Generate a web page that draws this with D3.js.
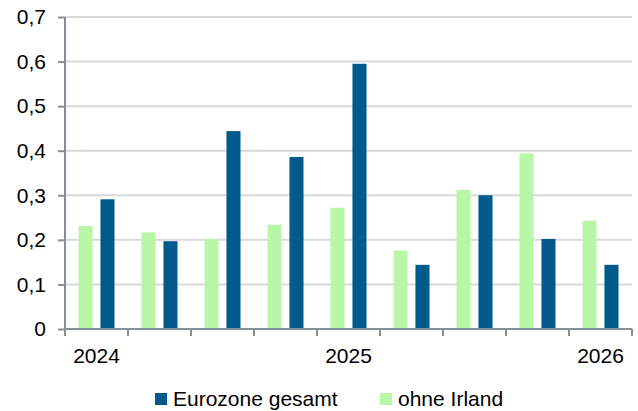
<!DOCTYPE html>
<html>
<head>
<meta charset="utf-8">
<script src="https://cdn.jsdelivr.net/npm/d3@7"></script>
<style>
  body { margin: 0; background: #fff; }
  text { font-family: "Liberation Sans", Arial, sans-serif; fill: #000; }
</style>
</head>
<body>
<div id="chart"></div>
<script>
// quarters 2024 Q1 .. 2026 Q1
var quarters = ["2024 Q1", "2024 Q2", "2024 Q3", "2024 Q4", "2025 Q1", "2025 Q2", "2025 Q3", "2025 Q4", "2026 Q1"];
var yearLabels = ["2024", "", "", "", "2025", "", "", "", "2026"];
var seriesNames = ["ohne Irland", "Eurozone gesamt"];
var ohneIrland = [0.231, 0.217, 0.202, 0.234, 0.272, 0.176, 0.312, 0.394, 0.243];
var eurozone = [0.291, 0.197, 0.444, 0.386, 0.595, 0.144, 0.300, 0.202, 0.144];
var yTicks = [0, 0.1, 0.2, 0.3, 0.4, 0.5, 0.6, 0.7];

var svgWidth = 638;
var svgHeight = 411;
var margin = { top: 17, right: 6, bottom: 82, left: 65 };
var width = svgWidth - margin.left - margin.right;
var height = svgHeight - margin.top - margin.bottom;

var colors = { "ohne Irland": "#b8f7a8", "Eurozone gesamt": "#005a8c" };

var svg = d3.select("#chart")
  .append("svg")
  .attr("width", svgWidth)
  .attr("height", svgHeight);

var chartGroup = svg.append("g")
  .attr("transform", `translate(${margin.left}, ${margin.top})`);

var x0 = d3.scaleBand()
  .domain(quarters)
  .range([0, width]);

var x1 = d3.scaleBand()
  .domain(seriesNames)
  .range([13.5, 49.5])
  .paddingInner(0.36);

var y = d3.scaleLinear()
  .domain([0, 0.7])
  .range([height, 0]);

var fmt = d => d3.format(".1f")(d).replace(".", ",").replace(/^0,0$/, "0");

// gridlines
chartGroup.append("g")
  .selectAll("line")
  .data(yTicks.filter(d => d > 0))
  .enter()
  .append("line")
  .attr("x1", 0)
  .attr("x2", width)
  .attr("y1", d => y(d))
  .attr("y2", d => y(d))
  .attr("stroke", "#d9d9d9")
  .attr("stroke-width", 2);

// bars
var data = quarters.map((q, i) => ({ q: q, vals: [
  { s: "ohne Irland", v: ohneIrland[i] },
  { s: "Eurozone gesamt", v: eurozone[i] }
] }));

chartGroup.append("g")
  .selectAll("g")
  .data(data)
  .enter()
  .append("g")
  .attr("transform", d => `translate(${x0(d.q)}, 0)`)
  .selectAll("rect")
  .data(d => d.vals)
  .enter()
  .append("rect")
  .attr("x", d => x1(d.s))
  .attr("width", x1.bandwidth())
  .attr("y", d => y(d.v))
  .attr("height", d => height - y(d.v))
  .attr("fill", d => colors[d.s]);

// y axis
var leftAxis = d3.axisLeft(y)
  .tickValues(yTicks)
  .tickSize(7)
  .tickPadding(12)
  .tickFormat(fmt);

var yAxis = chartGroup.append("g").call(leftAxis);
yAxis.select(".domain").attr("stroke", "#868e96").attr("stroke-width", 2).attr("d", `M0,0V${height}`);
yAxis.selectAll(".tick line").attr("stroke", "#868e96").attr("stroke-width", 2);
yAxis.selectAll(".tick text").style("font-size", "21px").attr("fill", "#000");

// x axis
var xAxisG = chartGroup.append("g")
  .attr("transform", `translate(0, ${height})`);

xAxisG.append("line")
  .attr("x1", 0)
  .attr("x2", width)
  .attr("stroke", "#868e96")
  .attr("stroke-width", 2);

var boundaries = quarters.map(q => x0(q)).concat([width]);
xAxisG.selectAll(".qtick")
  .data(boundaries)
  .enter()
  .append("line")
  .attr("class", "qtick")
  .attr("x1", d => d)
  .attr("x2", d => d)
  .attr("y1", 0)
  .attr("y2", 7)
  .attr("stroke", "#868e96")
  .attr("stroke-width", 2);

xAxisG.selectAll(".ylabel")
  .data(quarters)
  .enter()
  .append("text")
  .attr("class", "ylabel")
  .attr("x", d => x0(d) + x0.bandwidth() / 2)
  .attr("y", 34)
  .attr("text-anchor", "middle")
  .style("font-size", "21px")
  .text((d, i) => yearLabels[i]);

// legend
var legendItems = [
  { s: "Eurozone gesamt", x: 155 },
  { s: "ohne Irland", x: 380 }
];
var legend = svg.append("g");
legend.selectAll("rect")
  .data(legendItems)
  .enter()
  .append("rect")
  .attr("x", d => d.x)
  .attr("y", 393)
  .attr("width", 12)
  .attr("height", 12)
  .attr("fill", d => colors[d.s]);
legend.selectAll("text")
  .data(legendItems)
  .enter()
  .append("text")
  .attr("x", d => d.x + 18)
  .attr("y", 406)
  .style("font-size", "21px")
  .text(d => d.s);
</script>
</body>
</html>
